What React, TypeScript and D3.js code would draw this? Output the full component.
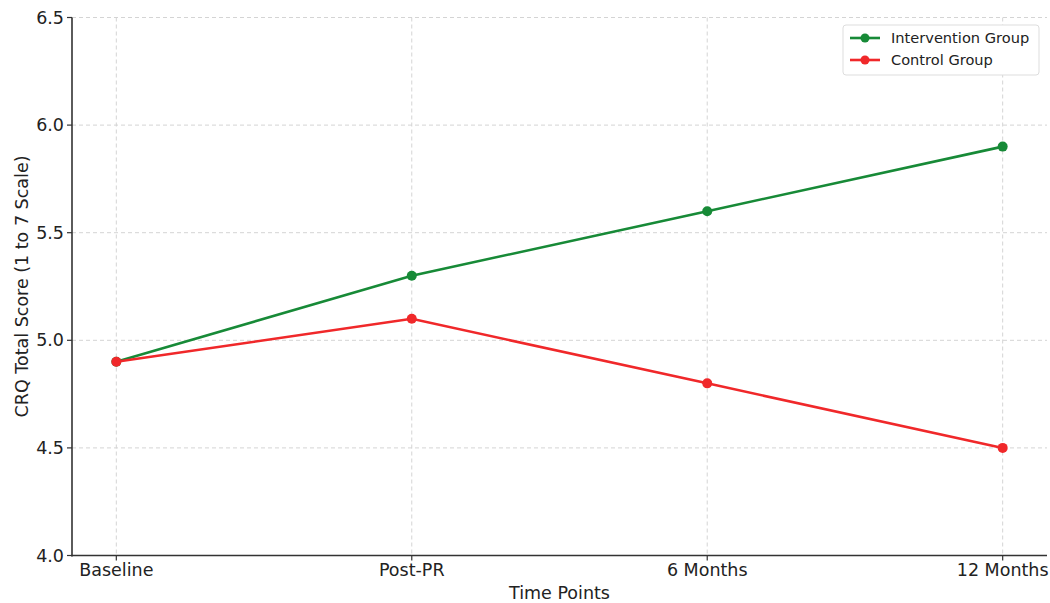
import React from "react";
import * as d3 from "d3";

const categories = ["Baseline", "Post-PR", "6 Months", "12 Months"];
const interventionValues = [4.9, 5.3, 5.6, 5.9];
const controlValues = [4.9, 5.1, 4.8, 4.5];
const yTicks = [4.0, 4.5, 5.0, 5.5, 6.0, 6.5];
const seriesNames = ["Intervention Group", "Control Group"];

const W = 1050;
const H = 603;
const M = { left: 72, right: 1047, top: 17.5, bottom: 555.5 };
const FONT = "DejaVu Sans, sans-serif";
const GREEN = "#178a37";
const RED = "#f0282a";

export default function App() {
  const x = d3.scaleLinear().domain([-0.15, categories.length - 1 + 0.15]).range([M.left, M.right]);
  const y = d3.scaleLinear().domain([4.0, 6.5]).range([M.bottom, M.top]);
  const line = d3
    .line<number>()
    .x((_, i) => x(i))
    .y((d) => y(d));

  const series = [
    { name: seriesNames[0], values: interventionValues, color: GREEN },
    { name: seriesNames[1], values: controlValues, color: RED },
  ];

  return (
    <svg
      width={W}
      height={H}
      style={{ position: "absolute", left: 0, top: 0, background: "#fff" }}
      fontFamily={FONT}
    >
      <rect x={0} y={0} width={W} height={H} fill="#fff" />
      {/* grid */}
      {yTicks.map((t) => (
        <line
          key={"gy" + t}
          x1={M.left}
          x2={M.right}
          y1={y(t)}
          y2={y(t)}
          stroke="#d4d4d4"
          strokeWidth={1}
          strokeDasharray="4,3"
        />
      ))}
      {categories.map((c, i) => (
        <line
          key={"gx" + c}
          x1={x(i)}
          x2={x(i)}
          y1={M.top}
          y2={M.bottom}
          stroke="#d4d4d4"
          strokeWidth={1}
          strokeDasharray="4,3"
        />
      ))}
      {/* axes */}
      <line x1={M.left} x2={M.left} y1={M.top} y2={M.bottom + 1} stroke="#333" strokeWidth={1.6} />
      <line x1={M.left - 0.8} x2={M.right} y1={M.bottom} y2={M.bottom} stroke="#333" strokeWidth={1.6} />
      {yTicks.map((t) => (
        <g key={"ty" + t}>
          <line x1={M.left - 5} x2={M.left} y1={y(t)} y2={y(t)} stroke="#333" strokeWidth={1.2} />
          <text x={M.left - 8} y={y(t)} dy="0.35em" textAnchor="end" fontSize={17.5} fill="#222">
            {t.toFixed(1)}
          </text>
        </g>
      ))}
      {categories.map((c, i) => (
        <g key={"tx" + c}>
          <line x1={x(i)} x2={x(i)} y1={M.bottom} y2={M.bottom + 5} stroke="#333" strokeWidth={1.2} />
          <text x={x(i)} y={M.bottom + 20} textAnchor="middle" fontSize={17.5} fill="#222">
            {c}
          </text>
        </g>
      ))}
      <text x={(M.left + M.right) / 2} y={599} textAnchor="middle" fontSize={17.5} fill="#222">
        Time Points
      </text>
      <text
        transform={`translate(28,${(M.top + M.bottom) / 2}) rotate(-90)`}
        textAnchor="middle"
        fontSize={17.5}
        fill="#222"
      >
        CRQ Total Score (1 to 7 Scale)
      </text>
      {/* series */}
      {series.map((s) => (
        <g key={s.name}>
          <path d={line(s.values) || ""} fill="none" stroke={s.color} strokeWidth={2.6} />
          {s.values.map((v, i) => (
            <circle key={i} cx={x(i)} cy={y(v)} r={5} fill={s.color} />
          ))}
        </g>
      ))}
      {/* legend */}
      <rect x={843} y={25} width={196} height={50} rx={3} fill="#fff" stroke="#ddd" strokeWidth={1} />
      {series.map((s, i) => {
        const ly = 38 + i * 22;
        return (
          <g key={"lg" + s.name}>
            <line x1={850} x2={880} y1={ly} y2={ly} stroke={s.color} strokeWidth={2.6} />
            <circle cx={865} cy={ly} r={4.5} fill={s.color} />
            <text x={891} y={ly} dy="0.35em" fontSize={14.6} fill="#222">
              {s.name}
            </text>
          </g>
        );
      })}
    </svg>
  );
}
